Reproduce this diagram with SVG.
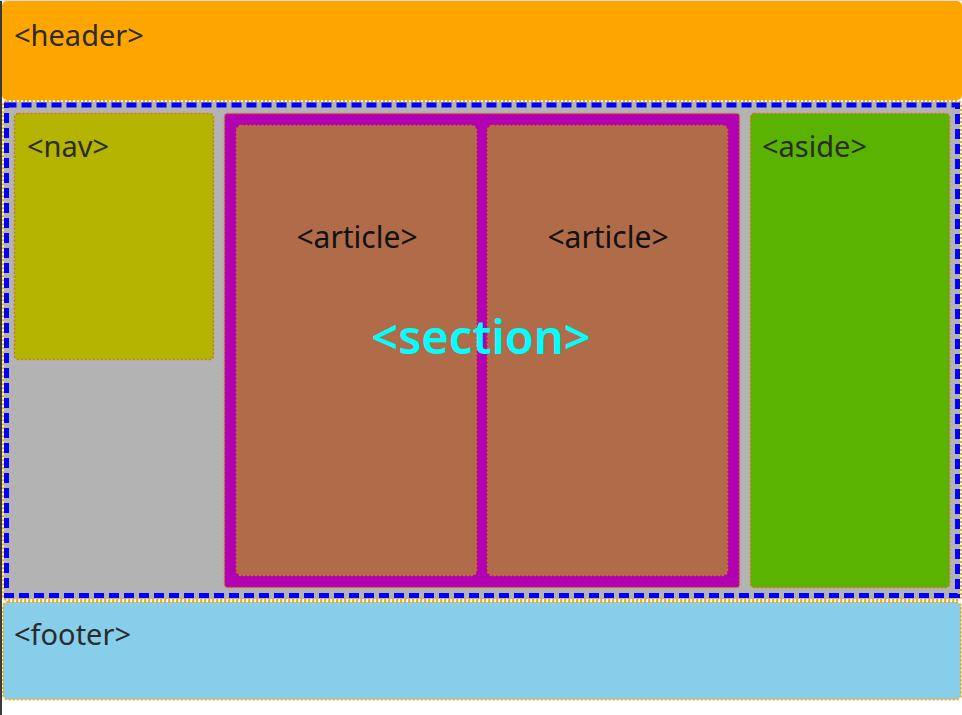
<svg xmlns="http://www.w3.org/2000/svg" width="962" height="715" viewBox="0 0 962 715">
<style>
.lbl{font-family:"Noto Sans","Open Sans",sans-serif;font-size:29px;fill:#2b2b2b}
.art{font-size:30px;fill:#111}
.dot{stroke:#cc7a12;stroke-width:1.5;stroke-dasharray:2 2}
.odot{stroke:#ffa500;stroke-width:2;stroke-dasharray:2 2}
</style>
<rect x="0" y="0" width="962" height="715" fill="#ffffff"/>
<rect x="0" y="0" width="962" height="1" fill="#dddddd"/>
<rect x="0" y="1" width="2" height="714" fill="#3a3a3a"/>
<g id="header">
<rect x="2" y="1" width="960" height="99" rx="5" fill="#ffa500"/>
<text class="lbl" x="14" y="46">&lt;header&gt;</text>
</g>
<g id="main">
<rect x="3" y="101" width="958" height="499" rx="4" fill="#ffffff" class="odot"/>
<rect x="4" y="102" width="956" height="497" fill="#b3b3b3"/>
<rect x="6.5" y="105" width="951" height="490.5" fill="none" stroke="#0000ff" stroke-width="5" stroke-dasharray="10 5"/>
</g>
<g id="nav">
<rect x="14.5" y="113.5" width="199" height="246" rx="4" fill="#b3b300" class="dot"/>
<text class="lbl" x="27" y="157">&lt;nav&gt;</text>
</g>
<g id="section">
<rect x="224.5" y="113.5" width="515" height="474" rx="3" fill="#b300b3" class="dot"/>
<text class="lbl" x="236" y="157" style="fill:#b3b350">&lt;article&gt;</text>
</g>
<g id="article1">
<rect x="236.5" y="125.5" width="240" height="450" rx="5" fill="#b06b48" class="dot"/>
<text class="lbl art" x="357" y="248" text-anchor="middle">&lt;article&gt;</text>
</g>
<g id="article2">
<rect x="487.5" y="125.5" width="240" height="450" rx="5" fill="#b06b48" class="dot"/>
<text class="lbl art" x="608" y="248" text-anchor="middle">&lt;article&gt;</text>
</g>
<g id="section-label">
<text x="481" y="354" text-anchor="middle" style="font-family:'Noto Sans','Open Sans',sans-serif;font-size:47px;font-weight:600;fill:#00ffff">&lt;section&gt;</text>
</g>
<g id="aside">
<rect x="750.5" y="113.5" width="199" height="474" rx="4" fill="#59b300" class="dot"/>
<text class="lbl" x="762" y="157">&lt;aside&gt;</text>
</g>
<g id="footer">
<rect x="3" y="602" width="958" height="97.5" rx="5" fill="#87ceeb" class="odot"/>
<text class="lbl" x="14" y="645">&lt;footer&gt;</text>
</g>
<g id="connectors"/>
</svg>
